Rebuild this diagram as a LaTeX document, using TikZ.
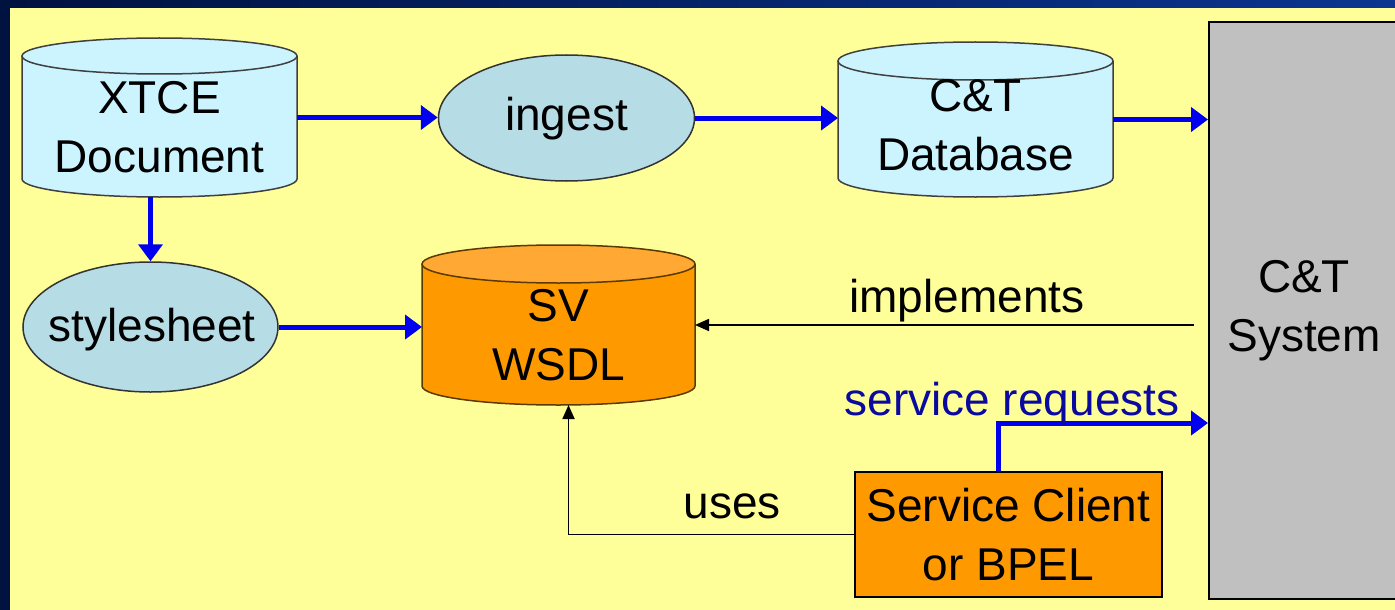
\documentclass[tikz,border=0pt]{standalone}
\usepackage{fontspec}
\setmainfont{Liberation Sans}
\usetikzlibrary{arrows.meta,shapes.geometric,calc}
\definecolor{navy}{HTML}{00123F}
\definecolor{navyright}{HTML}{0B3590}
\definecolor{bgyellow}{HTML}{FFFF99}
\definecolor{cylcyan}{HTML}{CCF4FF}
\definecolor{ellblue}{HTML}{B6DCE5}
\definecolor{orangefill}{HTML}{FF9900}
\definecolor{orangetop}{HTML}{FFA833}
\definecolor{orangeline}{HTML}{5A3A00}
\definecolor{sysgray}{HTML}{C0C0C0}
\definecolor{flowblue}{HTML}{0000EE}
\definecolor{reqblue}{HTML}{0A0AA0}
\begin{document}
\begin{tikzpicture}[x=1pt,y=1pt,
  txt/.style={font=\fontsize{46}{59}\selectfont, align=center, inner sep=0pt},
  bodybox/.style={inner sep=0pt, outer sep=0pt},
  procell/.style={ellipse, draw=black!80, line width=1.5pt, fill=ellblue, inner sep=0pt},
  cylline/.style={draw=black!75, line width=1.5pt},
  flow/.style={draw=flowblue, line width=5pt, -{Triangle[length=17pt,width=24pt]}},
  blk/.style={draw=black, line width=1.8pt, -{Triangle[length=14pt,width=12pt]}}
]
\useasboundingbox (0,0) rectangle (1395,-610);
% background
\fill[navy] (0,0) rectangle (1395,-610);
\shade[left color=navy, right color=navyright] (0,0) rectangle (1395,-8);
\fill[bgyellow] (10,-8) rectangle (1395,-610);

% C&T System
\node[draw=black, line width=2pt, fill=sysgray, minimum width=190pt, minimum height=577pt, txt] (sys) at (1304,-310.5) {C\&T\\System};

% XTCE cylinder
\fill[cylcyan] (22,-56) -- (22,-179) arc[start angle=180,end angle=360,x radius=137.5,y radius=18] -- (297,-56) -- cycle;
\draw[cylline] (22,-56) -- (22,-179) arc[start angle=180,end angle=360,x radius=137.5,y radius=18] -- (297,-56);
\filldraw[cylline, fill=cylcyan] (159.5,-56) ellipse [x radius=137.5, y radius=18];
\node[bodybox, minimum width=275pt, minimum height=159pt] (xtce) at (159.5,-117.5) {};
\node[txt] (xtcetxt) at (159.5,-127.5) {XTCE\\Document};

% C&T Database cylinder
\fill[cylcyan] (838,-61) -- (838,-178) arc[start angle=180,end angle=360,x radius=137.5,y radius=19] -- (1113,-61) -- cycle;
\draw[cylline] (838,-61) -- (838,-178) arc[start angle=180,end angle=360,x radius=137.5,y radius=19] -- (1113,-61);
\filldraw[cylline, fill=cylcyan] (975.5,-61) ellipse [x radius=137.5, y radius=19];
\node[bodybox, minimum width=275pt, minimum height=155pt] (db) at (975.5,-119.5) {};
\node[txt] (dbtxt) at (975.5,-125.5) {C\&T\\Database};

% SV WSDL cylinder
\fill[orangefill] (422,-264) -- (422,-386) arc[start angle=180,end angle=360,x radius=136.5,y radius=19] -- (695,-264) -- cycle;
\draw[draw=orangeline, line width=1.5pt] (422,-264) -- (422,-386) arc[start angle=180,end angle=360,x radius=136.5,y radius=19] -- (695,-264);
\filldraw[draw=orangeline, line width=1.5pt, fill=orangetop] (558.5,-264) ellipse [x radius=136.5, y radius=19];
\node[bodybox, minimum width=273pt, minimum height=160pt] (wsdl) at (558.5,-325) {};
\node[txt] (wsdltxt) at (558.5,-335) {SV\\WSDL};

% process ellipses
\node[procell, minimum width=256pt, minimum height=126pt] (ingest) at (566.5,-118) {};
\node[txt] (ingesttxt) at (566.5,-119) {ingest};
\node[procell, minimum width=255pt, minimum height=130pt] (style) at (150.5,-327) {};
\node[txt] (styletxt) at (152,-330) {stylesheet};

% Service client
\node[draw=black, line width=1.8pt, fill=orangefill, minimum width=307pt, minimum height=125pt, txt] (client) at (1008.5,-534.5) {Service Client\\or BPEL};

% connectors
\draw[flow] (xtce.east) -- (xtce.east -| ingest.west);
\draw[flow] (ingest.east) -- (ingest.east -| db.west);
\draw[flow] (db.east) -- (db.east -| sys.west);
\draw[flow] (xtce.south -| style.north) -- (style.north);
\draw[flow] (style.east) -- (style.east -| wsdl.west);
\draw[blk, shorten <=14pt] (sys.west |- wsdl.east) -- (wsdl.east);
\draw[flow] ([xshift=-10pt]client.north) |- (sys.west |- 0,-423);
\draw[blk] (client.west) -| ([xshift=10pt]wsdl.south);

% labels
\node[txt] (impl) at (967,-301) {implements};
\node[txt, text=reqblue] (sreq) at (1012,-404) {service requests};
\node[txt] (uses) at (732,-506) {uses};
\end{tikzpicture}
\end{document}
